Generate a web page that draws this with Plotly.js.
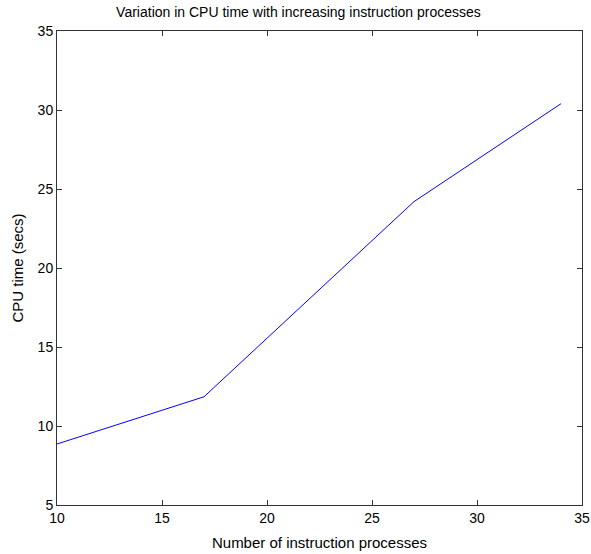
<!DOCTYPE html>
<html>
<head>
<meta charset="utf-8">
<script src="https://cdn.plot.ly/plotly-3.0.1.min.js"></script>
<style>html,body{margin:0;padding:0;background:#fff;}#chart{width:591px;height:554px;}</style>
</head>
<body>
<div id="chart"></div>
<script>
const processes = [10, 17, 27, 34];
const cpuTime = [8.86, 11.85, 24.2, 30.4];
const xTicks = [10, 15, 20, 25, 30, 35];
const yTicks = [5, 10, 15, 20, 25, 30, 35];

const FONT = "Liberation Sans, Arial, sans-serif";

const trace = {
  x: processes,
  y: cpuTime,
  type: 'scatter',
  mode: 'lines',
  line: {color: '#0000ff', width: 1},
  hoverinfo: 'skip'
};

const axisCommon = {
  showgrid: false,
  zeroline: false,
  showline: true,
  linecolor: '#333333',
  linewidth: 1,
  mirror: 'ticks',
  ticks: 'inside',
  ticklen: 5,
  tickwidth: 1,
  tickcolor: '#333333',
  tickfont: {family: FONT, size: 14, color: '#000'}
};

const layout = {
  width: 591,
  height: 554,
  margin: {l: 57, r: 9, t: 31, b: 49},
  paper_bgcolor: '#ffffff',
  plot_bgcolor: '#ffffff',
  showlegend: false,
  title: {text: 'Variation in CPU time with increasing instruction processes', font: {family: FONT, size: 14, color: '#000'}, x: 0.505, xanchor: 'center', y: 0.978, yanchor: 'middle'},
  xaxis: Object.assign({}, axisCommon, {
    range: [10, 35], tickvals: xTicks, ticktext: xTicks.map(String),
    title: {text: 'Number of instruction processes', font: {family: FONT, size: 15, color: '#000'}, standoff: 12}
  }),
  yaxis: Object.assign({}, axisCommon, {
    range: [5, 35], tickvals: yTicks, ticktext: yTicks.map(String),
    title: {text: 'CPU time (secs)', font: {family: FONT, size: 15, color: '#000'}, standoff: 10}
  })
};

Plotly.newPlot('chart', [trace], layout, {staticPlot: true, displayModeBar: false});
</script>
</body>
</html>
